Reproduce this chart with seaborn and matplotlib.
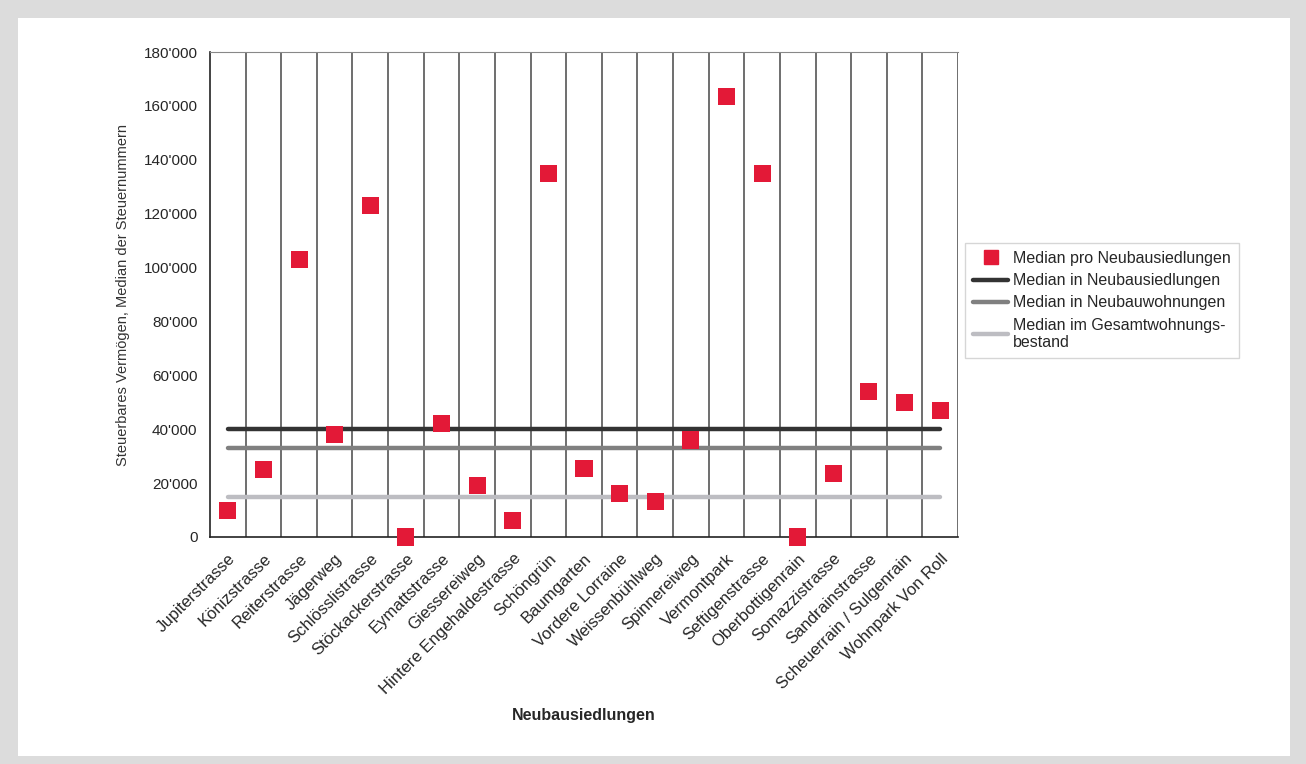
import matplotlib
matplotlib.use('Agg')
import matplotlib.pyplot as plt
import matplotlib.ticker as mticker
from matplotlib.patches import Rectangle
from matplotlib.lines import Line2D
import seaborn as sns
import pandas as pd

siedlungen = ['Jupiterstrasse', 'Könizstrasse', 'Reiterstrasse', 'Jägerweg',
              'Schlösslistrasse', 'Stöckackerstrasse', 'Eymattstrasse',
              'Giessereiweg', 'Hintere Engehaldestrasse', 'Schöngrün',
              'Baumgarten', 'Vordere Lorraine', 'Weissenbühlweg',
              'Spinnereiweg', 'Vermontpark', 'Seftigenstrasse',
              'Oberbottigenrain', 'Somazzistrasse', 'Sandrainstrasse',
              'Scheuerrain / Sulgenrain', 'Wohnpark Von Roll']
median_pro = [10000, 25000, 103000, 38000, 123000, 0, 42000, 19000, 6000,
              135000, 25500, 16000, 13000, 36000, 163500, 135000, 0, 23500,
              54000, 50000, 47000]
median_neubausiedlungen = 40000
median_neubauwohnungen = 33000
median_gesamt = 15000

sns.set_style('white')
plt.rcParams['font.family'] = ['Liberation Sans', 'DejaVu Sans']

fig = plt.figure(figsize=(13.06, 7.64), dpi=100)
fig.patch.set_facecolor('#dcdcdc')
fig.patches.append(Rectangle((18 / 1306, 1 - 756 / 764), 1272 / 1306, 738 / 764,
                             transform=fig.transFigure, facecolor='white',
                             edgecolor='none', zorder=-5))
ax = fig.add_axes([210 / 1306, 1 - 537 / 764, 748 / 1306, 485 / 764])
ax.set_zorder(1)
ax.set_facecolor('white')

df = pd.DataFrame({'x': range(len(siedlungen)), 'wert': median_pro})
n = len(siedlungen)

# vertical separators between categories
for b in range(n):
    ax.axvline(b + 0.5, color='#555555', lw=1.2, zorder=1)

xs = [0, n - 1]
ax.plot(xs, [median_neubausiedlungen] * 2, color='#333333', lw=3.2, zorder=2)
ax.plot(xs, [median_neubauwohnungen] * 2, color='#808080', lw=3.2, zorder=2)
ax.plot(xs, [median_gesamt] * 2, color='#bdbdc2', lw=3.2, zorder=2)
sns.scatterplot(data=df, x='x', y='wert', marker='s', s=150, color='#e31937',
                edgecolor='none', ax=ax, zorder=3, legend=False, clip_on=False)

ax.set_xlim(-0.5, n - 0.5)
ax.set_ylim(0, 180000)
ax.set_yticks(range(0, 180001, 20000))
ax.yaxis.set_major_formatter(mticker.FuncFormatter(
    lambda v, p: '{:,.0f}'.format(v).replace(',', "'")))
ax.set_xticks([i - 0.5 for i in range(n + 1)])
ax.set_xticklabels([])
ax.set_xticks(range(n), minor=True)
ax.set_xticklabels(siedlungen, minor=True, rotation=45, ha='right',
                   rotation_mode='anchor', fontsize=12)
ax.tick_params(axis='x', which='minor', length=0, pad=10)
ax.tick_params(axis='x', which='major', direction='out', length=5, width=1,
               color='#333333')
ax.tick_params(axis='y', direction='out', length=5, width=1, color='#333333',
               labelsize=11, pad=4)

for side in ['left', 'bottom']:
    ax.spines[side].set_color('#222222')
    ax.spines[side].set_linewidth(1.2)
ax.spines['top'].set_color('#888888')
ax.spines['right'].set_visible(False)

ax.set_xlabel('Neubausiedlungen', fontsize=11.5, fontweight='bold', labelpad=8)
ax.set_ylabel('Steuerbares Vermögen, Median der Steuernummern', fontsize=10.5,
              color='#333333', labelpad=10)

handles = [
    Line2D([], [], marker='s', color='#e31937', linestyle='none', markersize=10),
    Line2D([], [], color='#333333', lw=3.2),
    Line2D([], [], color='#808080', lw=3.2),
    Line2D([], [], color='#bdbdc2', lw=3.2),
]
labels = ['Median pro Neubausiedlungen', 'Median in Neubausiedlungen',
          'Median in Neubauwohnungen', 'Median im Gesamtwohnungs-\nbestand']
leg = fig.legend(handles, labels, loc='upper left',
                 bbox_to_anchor=(965 / 1306, 1 - 243 / 764), fontsize=11.5,
                 frameon=True, fancybox=False, handlelength=2.2,
                 handletextpad=0.3, borderpad=0.5, labelspacing=0.45,
                 borderaxespad=0)
leg.get_frame().set_edgecolor('#cccccc')
leg.get_frame().set_linewidth(1)

fig.savefig('out.png', dpi=100, facecolor=fig.get_facecolor())
